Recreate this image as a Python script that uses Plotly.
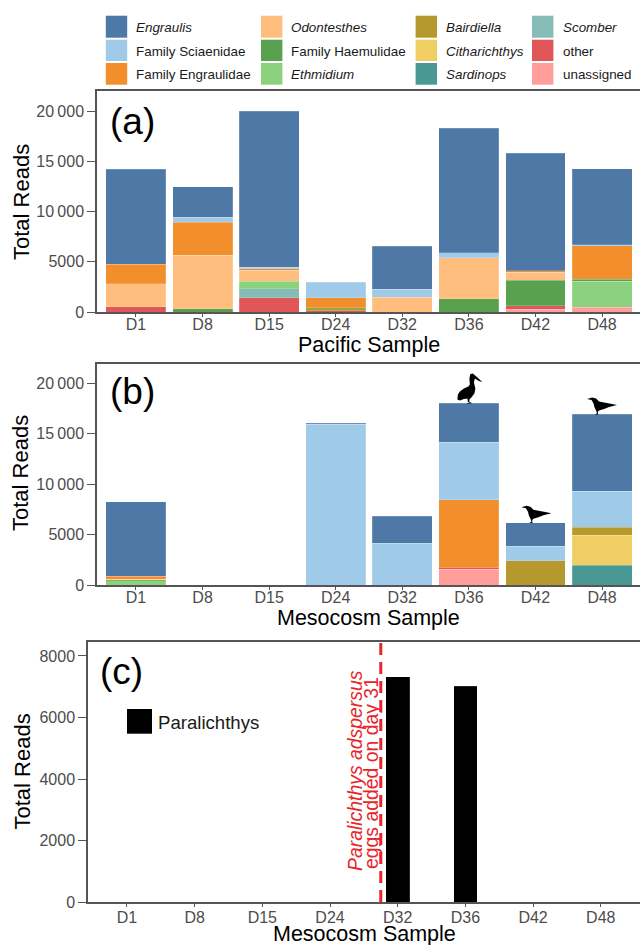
import plotly.graph_objects as go

samples = ["D1", "D8", "D15", "D24", "D32", "D36", "D42", "D48"]
taxa = ["unassigned", "other", "Scomber", "Sardinops", "Citharichthys", "Bairdiella", "Ethmidium",
        "Family Haemulidae", "Odontesthes", "Family Engraulidae", "Family Sciaenidae", "Engraulis"]

pacific_unassigned = [0, 0, 0, 0, 0, 0, 270, 460]
pacific_other = [500, 0, 1430, 100, 0, 0, 330, 0]
pacific_scomber = [0, 0, 860, 0, 0, 0, 0, 0]
pacific_sardinops = [0, 0, 0, 0, 0, 0, 0, 0]
pacific_citharichthys = [0, 0, 0, 0, 0, 0, 0, 0]
pacific_bairdiella = [0, 0, 0, 200, 0, 0, 0, 0]
pacific_ethmidium = [0, 0, 760, 0, 0, 0, 0, 2625]
pacific_haemulidae = [0, 300, 0, 100, 0, 1330, 2550, 165]
pacific_odontesthes = [2320, 5340, 1100, 0, 1460, 4070, 830, 0]
pacific_engraulidae = [1920, 3310, 160, 1030, 0, 0, 130, 3350]
pacific_sciaenidae = [0, 500, 130, 1520, 800, 500, 0, 100]
pacific_engraulis = [9460, 3020, 15560, 0, 4270, 12370, 11680, 7560]

meso_unassigned = [0, 0, 0, 0, 0, 1550, 0, 0]
meso_other = [0, 0, 0, 0, 0, 140, 0, 0]
meso_scomber = [0, 0, 0, 0, 0, 0, 0, 0]
meso_sardinops = [0, 0, 0, 0, 0, 0, 0, 1950]
meso_citharichthys = [0, 0, 0, 0, 0, 0, 0, 3010]
meso_bairdiella = [0, 0, 0, 0, 0, 0, 2410, 790]
meso_ethmidium = [430, 0, 0, 0, 0, 0, 0, 0]
meso_haemulidae = [100, 0, 0, 0, 0, 0, 0, 0]
meso_odontesthes = [60, 0, 0, 0, 0, 0, 0, 0]
meso_engraulidae = [300, 0, 0, 0, 0, 6770, 0, 0]
meso_sciaenidae = [0, 0, 0, 15970, 4165, 5720, 1460, 3570]
meso_engraulis = [7370, 0, 0, 60, 2675, 3840, 2310, 7610]

paralichthys = [0, 0, 0, 0, 7330, 7010, 0, 0]

pacific = [pacific_unassigned, pacific_other, pacific_scomber, pacific_sardinops, pacific_citharichthys,
           pacific_bairdiella, pacific_ethmidium, pacific_haemulidae, pacific_odontesthes,
           pacific_engraulidae, pacific_sciaenidae, pacific_engraulis]
meso = [meso_unassigned, meso_other, meso_scomber, meso_sardinops, meso_citharichthys,
        meso_bairdiella, meso_ethmidium, meso_haemulidae, meso_odontesthes,
        meso_engraulidae, meso_sciaenidae, meso_engraulis]

colors = {"Engraulis": "#4e79a7", "Family Sciaenidae": "#a0cbe8", "Family Engraulidae": "#f28e2b",
          "Odontesthes": "#ffbe7d", "Family Haemulidae": "#59a14f", "Ethmidium": "#8cd17d",
          "Bairdiella": "#b6992d", "Citharichthys": "#f1ce63", "Sardinops": "#499894",
          "Scomber": "#86bcb6", "other": "#e15759", "unassigned": "#ff9d9a"}
italic = {"Engraulis", "Odontesthes", "Ethmidium", "Bairdiella", "Citharichthys", "Sardinops", "Scomber"}
legend_cols = [["Engraulis", "Family Sciaenidae", "Family Engraulidae"],
               ["Odontesthes", "Family Haemulidae", "Ethmidium"],
               ["Bairdiella", "Citharichthys", "Sardinops"],
               ["Scomber", "other", "unassigned"]]

W, H = 640, 945
FONT = "Liberation Sans, Arial, sans-serif"
AXC = "#555555"
TICKC = "#4d4d4d"
RED = "#e8262a"
px = lambda v: v / W
py = lambda v: 1 - v / H

fig = go.Figure()
for xa, ya, table in (("x", "y", pacific), ("x2", "y2", meso)):
    for name, vals in zip(taxa, table):
        fig.add_trace(go.Bar(x=samples, y=[v if v else None for v in vals], name=name, xaxis=xa, yaxis=ya,
                             marker=dict(color=colors[name], line=dict(color="rgba(255,255,255,0.3)", width=0.6)),
                             showlegend=False))
fig.add_trace(go.Bar(x=samples, y=[v if v else None for v in paralichthys], name="Paralichthys", xaxis="x3", yaxis="y3",
                     marker=dict(color="black", line=dict(color="rgba(255,255,255,0.3)", width=0.5)),
                     width=0.35, showlegend=False))


def xaxis(left, rng, anchor, standoff):
    return dict(domain=[px(left), 1], range=rng, type="category", categoryorder="array", categoryarray=samples,
                anchor=anchor, showline=True, linecolor=AXC, linewidth=1.5, mirror=True, ticks="outside",
                ticklen=3, tickwidth=1, tickcolor=AXC, showgrid=False, zeroline=False, automargin=False,
                ticklabelstandoff=standoff, tickfont=dict(size=16, color=TICKC, family=FONT))


def yaxis(top, bottom, rng, vals, text, anchor):
    return dict(domain=[py(bottom), py(top)], range=rng, anchor=anchor, showline=True, linecolor=AXC, linewidth=1.5,
                ticks="outside", ticklen=8, tickwidth=1, tickcolor=AXC, showgrid=False, zeroline=False, automargin=False,
                tickvals=vals, ticktext=text, tickfont=dict(size=16, color=TICKC, family=FONT))


read_ticks = [0, 5000, 10000, 15000, 20000]
read_text = ["0", "5000", "10\u2009000", "15\u2009000", "20\u2009000"]
c_ticks = [0, 2000, 4000, 6000, 8000]
c_text = ["0", "2000", "4000", "6000", "8000"]

shapes, annos = [], []

# axis titles
for text, x, y in (("Pacific Sample", 368.5, 345), ("Mesocosm Sample", 368.5, 618), ("Mesocosm Sample", 364, 934)):
    annos.append(dict(xref="paper", yref="paper", x=px(x), y=py(y), xanchor="center", yanchor="middle", showarrow=False,
                      text=text, font=dict(size=21.5, color="black", family=FONT)))
for x, y in ((21, 202), (21, 473), (21.5, 772)):
    annos.append(dict(xref="paper", yref="paper", x=px(x), y=py(y), xanchor="center", yanchor="middle", showarrow=False,
                      textangle=-90, text="Total Reads", font=dict(size=22, color="black", family=FONT)))

# colour key above the panels
col_x = [(105.8, 136.3), (261, 291), (415.6, 445.8), (532, 562.6)]
row_y = [(15.7, 37.7), (39.7, 61), (63, 84.7)]
row_text = [27, 51, 74]
for (sx, tx), col in zip(col_x, legend_cols):
    for (y0, y1), ty, name in zip(row_y, row_text, col):
        shapes.append(dict(type="rect", xref="paper", yref="paper", x0=px(sx), x1=px(sx + 21.4), y0=py(y1), y1=py(y0),
                           fillcolor=colors[name], line=dict(width=0)))
        annos.append(dict(xref="paper", yref="paper", x=px(tx), y=py(ty), xanchor="left", yanchor="middle", showarrow=False,
                          xshift=-2, text=f"<i>{name}</i>" if name in italic else name,
                          font=dict(size=13.4, color="#1a1a1a", family=FONT)))

for label, x, y in (("(a)", 108, 121), ("(b)", 108, 392), ("(c)", 98, 671)):
    annos.append(dict(xref="paper", yref="paper", x=px(x), y=py(y), xanchor="left", yanchor="middle", showarrow=False,
                      text=label, font=dict(size=37, color="black", family=FONT)))

# panel (c) key and annotation
shapes.append(dict(type="rect", xref="paper", yref="paper", x0=px(127), x1=px(152), y0=py(733.7), y1=py(709),
                   fillcolor="black", line=dict(width=0)))
annos.append(dict(xref="paper", yref="paper", x=px(156), y=py(722), xanchor="left", yanchor="middle", showarrow=False,
                  text="Paralichthys", font=dict(size=18.6, color="#1a1a1a", family=FONT)))
shapes.append(dict(type="line", xref="x3", yref="y3 domain", x0=3.75, x1=3.75, y0=0, y1=1,
                   line=dict(color=RED, width=3, dash="12px,7px")))
annos.append(dict(xref="paper", yref="paper", x=px(355), y=py(771), textangle=-90, showarrow=False,
                  xanchor="center", yanchor="middle",
                  text="<i>Paralichthys adspersus</i>", font=dict(size=19.4, color=RED, family=FONT)))
annos.append(dict(xref="paper", yref="paper", x=px(371), y=py(773), textangle=-90, showarrow=False,
                  xanchor="center", yanchor="middle",
                  text="eggs added on day 31", font=dict(size=19.4, color=RED, family=FONT)))

# bird silhouettes standing on the mesocosm bars (pixel offsets from bar top)
PELICAN = ("M -2.5 0 L 2.5 0 L 2.5 1 L -1 1.5 L -1.5 5 L -5 4.5 L -9 3 L -11.5 4 L -11 9 L -9 12 L -5 15 "
           "L -0.5 17 L 1 19 L 0.5 25 L 1.5 29.5 L 4 30 L 8 26.5 L 13.5 21.5 L 10 22.5 L 6 25 L 5 21 L 6.5 15 L 5.5 10 "
           "L 2.5 6 L 0.5 4 L 0.5 1 Z")
TERN = ("M -2 -0.3 L 1.5 0 L 0.7 1 L 1 3 L 2 4 L 7 5.5 L 12 7.5 L 20 9.5 L 12.5 11 L 7 12 L 2 13 L -1 16 L -5 17 "
        "L -10 15.5 L -5.5 14.5 L -3.5 11 L -2.5 7 L -1 4 L 0 1.5 Z")
for s, path, dx in (("D36", PELICAN, 0), ("D42", TERN, -4), ("D48", TERN, -5)):
    i = samples.index(s)
    top = sum(col[i] for col in meso)
    shapes.append(dict(type="path", xref="x2", yref="y2", xsizemode="pixel", ysizemode="pixel",
                       xanchor=i + dx / 66.6, yanchor=top, path=path, fillcolor="black", line=dict(width=0)))

fig.update_layout(
    width=W, height=H, autosize=False, barmode="stack", bargap=0.1, margin=dict(l=0, r=0, t=0, b=0),
    paper_bgcolor="white", plot_bgcolor="white", showlegend=False, shapes=shapes, annotations=annos,
    font=dict(family=FONT),
    xaxis=xaxis(97, [-0.585, 7.57], "y", -6),
    yaxis=yaxis(91, 312, [0, 21990], read_ticks, read_text, "x"),
    xaxis2=xaxis(97, [-0.585, 7.57], "y2", -6),
    yaxis2=yaxis(364, 585, [0, 21935], read_ticks, read_text, "x2"),
    xaxis3=xaxis(88, [-0.576, 7.58], "y3", -3),
    yaxis3=yaxis(642, 902, [0, 8455], c_ticks, c_text, "x3"),
)
fig.write_html("out.html", config={"displayModeBar": False}, post_script="document.body.style.margin='0';")
